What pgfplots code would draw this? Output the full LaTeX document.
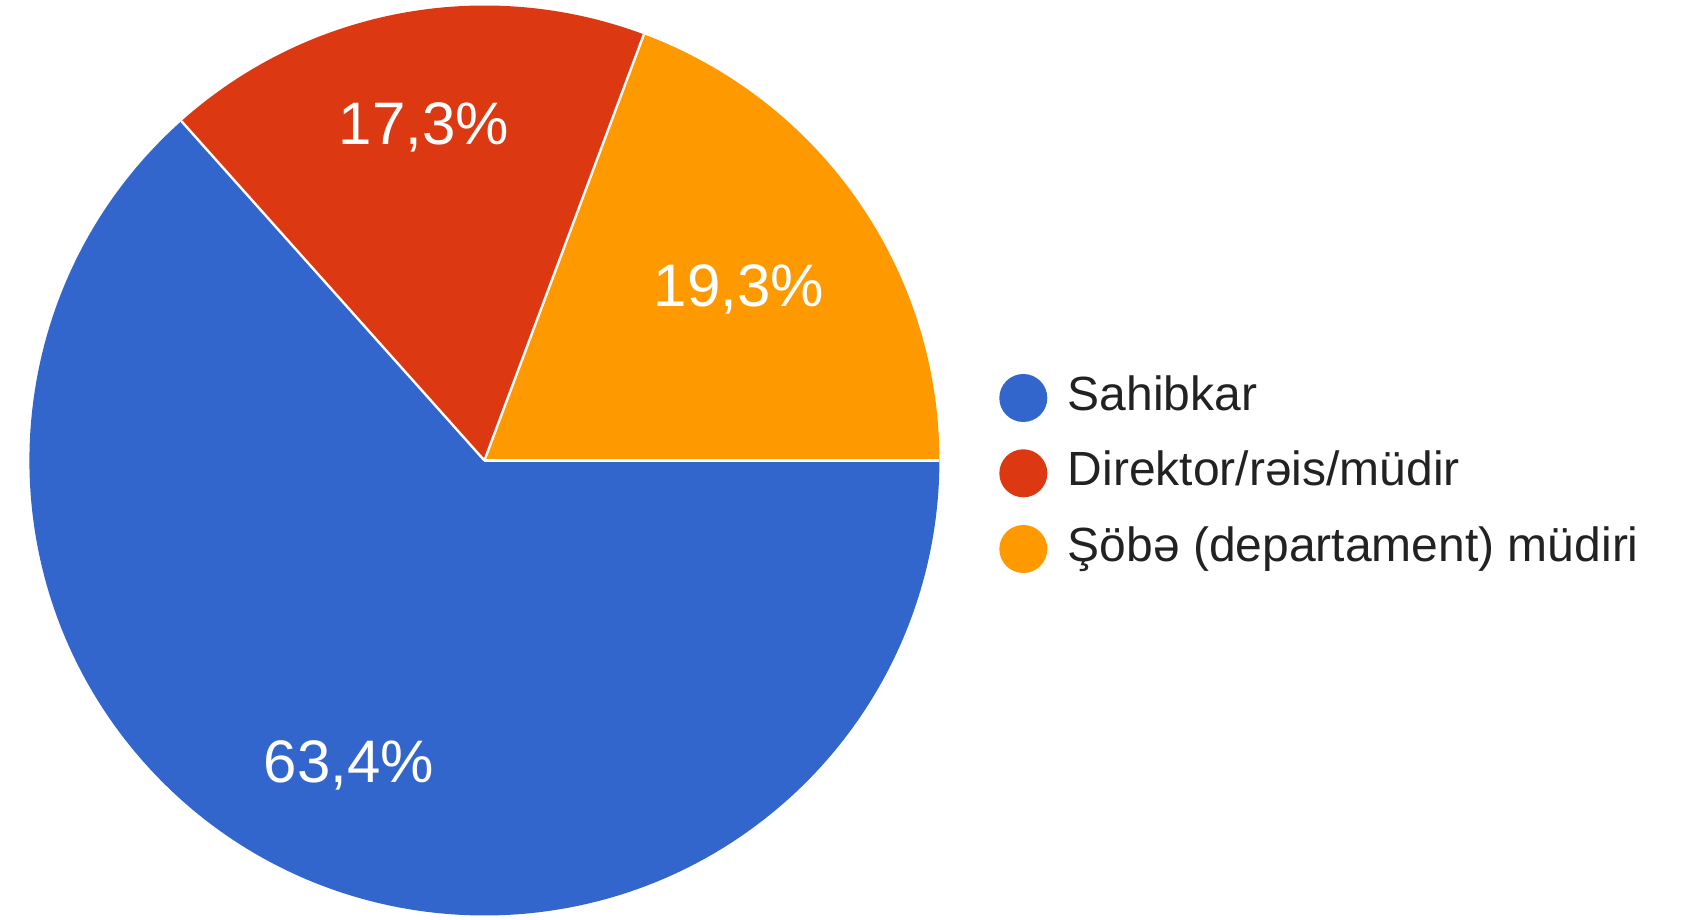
\documentclass[border=0pt]{standalone}
\usepackage{pgfplots}
\usepackage{pgfplotstable}
\pgfplotsset{compat=1.18}
\usepackage{fontspec}
\setmainfont{Liberation Sans}
\definecolor{cblue}{HTML}{3366CC}
\definecolor{cred}{HTML}{DC3912}
\definecolor{corange}{HTML}{FF9900}
\definecolor{ctext}{HTML}{222222}
\pgfplotstableread{
idx value
0 63.4
1 17.3
2 19.3
}\piedata
\begin{document}
\begin{tikzpicture}
\pgfplotstablegetelem{0}{value}\of\piedata \let\vA\pgfplotsretval
\pgfplotstablegetelem{1}{value}\of\piedata \let\vB\pgfplotsretval
\pgfplotstablegetelem{2}{value}\of\piedata \let\vC\pgfplotsretval
\pgfmathsetmacro{\aC}{3.6*\vC}
\pgfmathsetmacro{\aB}{\aC+3.6*\vB}
\pgfmathsetmacro{\aA}{\aB+3.6*\vA}
\path[use as bounding box] (0,0) rectangle (424.75pt,229.75pt);
\begin{axis}[at={(0,0)}, anchor=south west, x=0.25pt, y=0.25pt,
  xmin=0, xmax=1699, ymin=0, ymax=919, hide axis, clip=false]
\fill[corange] (axis cs:484.4,458.5) -- ++(0:113.75pt) arc[start angle=0,end angle=\aC,radius=113.75pt] -- cycle;
\fill[cred] (axis cs:484.4,458.5) -- ++(\aC:113.75pt) arc[start angle=\aC,end angle=\aB,radius=113.75pt] -- cycle;
\fill[cblue] (axis cs:484.4,458.5) -- ++(\aB:113.75pt) arc[start angle=\aB,end angle=\aA,radius=113.75pt] -- cycle;
\draw[white, line width=0.6pt] (axis cs:484.4,458.5) -- ++(0:113.75pt);
\draw[white, line width=0.6pt] (axis cs:484.4,458.5) -- ++(\aC:113.75pt);
\draw[white, line width=0.6pt] (axis cs:484.4,458.5) -- ++(\aB:113.75pt);
\node[white, anchor=base, inner sep=0pt, font=\fontsize{15pt}{18pt}\selectfont] at (axis cs:424,774) {17,3\%};
\node[white, anchor=base, inner sep=0pt, font=\fontsize{15pt}{18pt}\selectfont] at (axis cs:739,612) {19,3\%};
\node[white, anchor=base, inner sep=0pt, font=\fontsize{15pt}{18pt}\selectfont] at (axis cs:349,136) {63,4\%};
\fill[cblue] (axis cs:1023.3,521) circle[radius=6pt];
\fill[cred] (axis cs:1023.3,445.7) circle[radius=6pt];
\fill[corange] (axis cs:1023.3,370) circle[radius=6pt];
\node[ctext, anchor=base west, inner sep=0pt, font=\fontsize{12pt}{14pt}\selectfont] at (axis cs:1067,508) {Sahibkar};
\node[ctext, anchor=base west, inner sep=0pt, font=\fontsize{12pt}{14pt}\selectfont] at (axis cs:1067,433) {Direktor/rəis/müdir};
\node[ctext, anchor=base west, inner sep=0pt, font=\fontsize{12pt}{14pt}\selectfont] at (axis cs:1067,357.5) {Şöbə (departament) müdiri};
\end{axis}
\end{tikzpicture}
\end{document}
